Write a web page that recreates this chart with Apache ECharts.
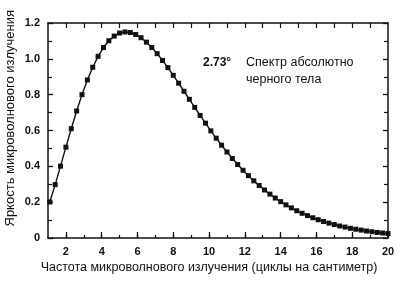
<!DOCTYPE html>
<html>
<head>
<meta charset="utf-8">
<script src="https://cdn.jsdelivr.net/npm/echarts@6/dist/echarts.min.js"></script>
<style>
  html, body { margin: 0; padding: 0; background: #fff; }
  #chart { width: 400px; height: 281px; }
</style>
</head>
<body>
<div id="chart"></div>
<script>
// frequency, cycles per cm
const freq = [1.1, 1.4, 1.7, 2.0, 2.3, 2.6, 2.9, 3.2, 3.5, 3.8, 4.1, 4.4, 4.7, 5.0, 5.3, 5.6, 5.9,
  6.2, 6.5, 6.8, 7.1, 7.4, 7.7, 8.0, 8.3, 8.6, 8.9, 9.2, 9.5, 9.8, 10.1, 10.4, 10.7, 11.0, 11.3,
  11.6, 11.9, 12.2, 12.5, 12.8, 13.1, 13.4, 13.7, 14.0, 14.3, 14.6, 14.9, 15.2, 15.5, 15.8, 16.1,
  16.4, 16.7, 17.0, 17.3, 17.6, 17.9, 18.2, 18.5, 18.8, 19.1, 19.4, 19.7, 20.0];
// brightness
const brightness = [0.201, 0.298, 0.401, 0.507, 0.610, 0.709, 0.800, 0.882, 0.953, 1.014, 1.063,
  1.101, 1.127, 1.144, 1.150, 1.147, 1.136, 1.118, 1.093, 1.063, 1.029, 0.991, 0.951, 0.908, 0.864,
  0.819, 0.774, 0.729, 0.684, 0.641, 0.598, 0.557, 0.518, 0.480, 0.444, 0.410, 0.378, 0.348, 0.319,
  0.293, 0.268, 0.245, 0.223, 0.203, 0.185, 0.168, 0.152, 0.138, 0.125, 0.113, 0.102, 0.092, 0.083,
  0.075, 0.067, 0.061, 0.054, 0.049, 0.044, 0.039, 0.035, 0.031, 0.028, 0.025];
const xTicks = [2, 4, 6, 8, 10, 12, 14, 16, 18, 20];
const xMinorTicks = [2, 3, 4, 5, 6, 7, 8, 9, 10, 11, 12, 13, 14, 15, 16, 17, 18, 19];
const yTicks = [0, 0.2, 0.4, 0.6, 0.8, 1.0, 1.2];

const ink = "#111";
const font = "'Liberation Sans', Arial, sans-serif";

const chart = echarts.init(document.getElementById("chart"), null, { renderer: "canvas" });

const baseX = {
  type: "value", min: 1, max: 20,
  splitLine: { show: false },
  axisLine: { show: true, onZero: false, lineStyle: { color: ink, width: 1.5 } }
};
const baseY = {
  type: "value", min: 0, max: 1.2, interval: 0.2,
  splitLine: { show: false },
  axisLine: { show: true, lineStyle: { color: ink, width: 1.5 } }
};

chart.setOption({
  animation: false,
  grid: { left: 48, right: 12, top: 23, bottom: 43 },
  xAxis: [
    Object.assign({}, baseX, {
      position: "bottom",
      axisTick: { inside: true, length: 6, customValues: xTicks, lineStyle: { color: ink, width: 1.3 } },
      axisLabel: {
        customValues: xTicks, margin: 8, color: ink,
        fontFamily: font, fontSize: 11, fontWeight: "bold"
      }
    }),
    Object.assign({}, baseX, {
      position: "bottom",
      axisLine: { show: false },
      axisTick: { inside: true, length: 3, customValues: xMinorTicks, lineStyle: { color: ink, width: 1.2 } },
      axisLabel: { show: false }
    }),
    Object.assign({}, baseX, {
      position: "top",
      axisTick: { inside: true, length: 5, customValues: xMinorTicks, lineStyle: { color: ink, width: 1.2 } },
      axisLabel: { show: false }
    })
  ],
  yAxis: [
    Object.assign({}, baseY, {
      position: "left",
      axisTick: { inside: true, length: 5, lineStyle: { color: ink, width: 1.3 } },
      minorTick: { show: true, splitNumber: 2, length: 4, lineStyle: { color: ink, width: 1.2 } },
      axisLabel: {
        margin: 8, color: ink, fontFamily: font, fontSize: 11, fontWeight: "bold",
        customValues: yTicks,
        formatter: (v) => (v === 0 ? "0" : v.toFixed(1))
      }
    }),
    Object.assign({}, baseY, {
      position: "right",
      axisTick: { inside: true, length: 5, lineStyle: { color: ink, width: 1.3 } },
      minorTick: { show: true, splitNumber: 2, length: 4, lineStyle: { color: ink, width: 1.2 } },
      axisLabel: { show: false }
    })
  ],
  graphic: [
    {
      type: "text", left: 4, top: 10, rotation: Math.PI / 2,
      x: 8, y: 132, originX: 0, originY: 0,
      style: {
        text: "Яркость микроволнового излучения", fill: ink,
        font: "13px " + font, align: "center", verticalAlign: "middle"
      }
    },
    {
      type: "text", x: 209, y: 268,
      style: {
        text: "Частота микроволнового излучения (циклы на сантиметр)", fill: ink,
        font: "12.5px " + font, align: "center", verticalAlign: "middle"
      }
    },
    {
      type: "text", x: 203, y: 63,
      style: { text: "2.73°", fill: ink, font: "bold 12px " + font, verticalAlign: "middle" }
    },
    {
      type: "text", x: 246, y: 63,
      style: { text: "Спектр абсолютно", fill: ink, font: "12.5px " + font, verticalAlign: "middle" }
    },
    {
      type: "text", x: 246, y: 80,
      style: { text: "черного тела", fill: ink, font: "12.5px " + font, verticalAlign: "middle" }
    }
  ],
  series: [
    {
      type: "line",
      xAxisIndex: 0, yAxisIndex: 0,
      data: freq.map((f, i) => [f, brightness[i]]),
      symbol: "rect", symbolSize: 5,
      lineStyle: { color: ink, width: 1.4 },
      itemStyle: { color: ink },
      clip: false
    }
  ]
});
</script>
</body>
</html>
